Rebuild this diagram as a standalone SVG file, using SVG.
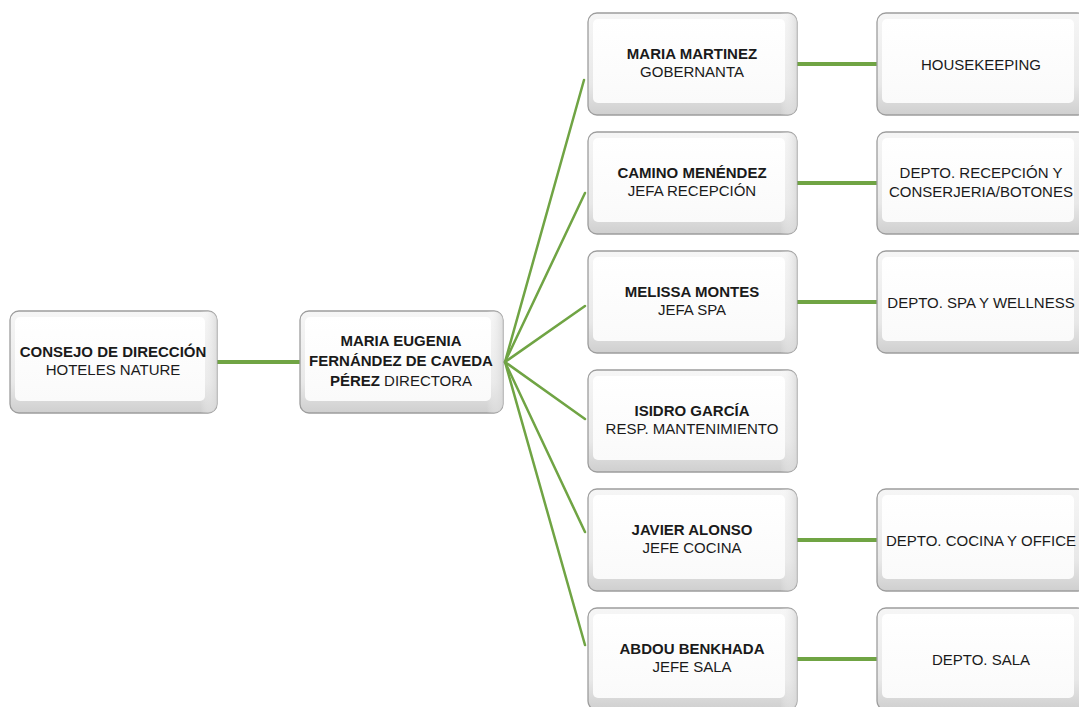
<svg xmlns="http://www.w3.org/2000/svg" width="1079" height="707" viewBox="0 0 1079 707">
<defs>
<linearGradient id="edge" x1="0" y1="0" x2="0" y2="1">
<stop offset="0" stop-color="#f6f6f6"/>
<stop offset="0.7" stop-color="#e8e8e8"/>
<stop offset="1" stop-color="#cfcfcf"/>
</linearGradient>
<linearGradient id="side" x1="0" y1="0" x2="1" y2="0">
<stop offset="0" stop-color="#ffffff" stop-opacity="0"/>
<stop offset="0.92" stop-color="#ffffff" stop-opacity="0"/>
<stop offset="1" stop-color="#d8d8d8" stop-opacity="0.8"/>
</linearGradient>
<linearGradient id="face" x1="0" y1="0" x2="0" y2="1">
<stop offset="0" stop-color="#ffffff"/>
<stop offset="1" stop-color="#fafafa"/>
</linearGradient>
</defs>
<style>
.outer{fill:url(#edge);stroke:#9d9d9d;stroke-width:1.3}
.sh{fill:url(#side)}
.face{fill:url(#face)}
.t{font-family:"Liberation Sans",Arial,sans-serif;font-size:15px;fill:#1a1a1a;text-anchor:middle}
.b{font-weight:bold}
.fan{stroke:#70a444;stroke-width:2.5;fill:none;stroke-linecap:round}
.hz{stroke:#70a444;stroke-width:4;fill:none}
</style>
<rect width="1079" height="707" fill="#ffffff"/>
<g id="connectors">
<line class="hz" x1="217" y1="362" x2="300" y2="362"/>
<line class="fan" x1="505" y1="362" x2="584" y2="80"/>
<line class="fan" x1="505" y1="362" x2="585" y2="193"/>
<line class="fan" x1="505" y1="362" x2="585" y2="306"/>
<line class="fan" x1="505" y1="362" x2="585" y2="419"/>
<line class="fan" x1="505" y1="362" x2="585" y2="532"/>
<line class="fan" x1="505" y1="362" x2="585" y2="645"/>
<line class="hz" x1="797" y1="64" x2="877" y2="64"/>
<line class="hz" x1="797" y1="183" x2="877" y2="183"/>
<line class="hz" x1="797" y1="302" x2="877" y2="302"/>
<line class="hz" x1="797" y1="540" x2="877" y2="540"/>
<line class="hz" x1="797" y1="659" x2="877" y2="659"/>
</g>
<g id="consejo">
<rect class="outer" x="10" y="311" width="207" height="102" rx="9"/>
<rect class="sh" x="10" y="311" width="207" height="102" rx="9"/>
<rect class="face" x="15" y="317" width="190" height="84" rx="5"/>
<text class="t" x="113" y="357"><tspan class="b">CONSEJO DE DIRECCIÓN</tspan></text>
<text class="t" x="113" y="375">HOTELES NATURE</text>
</g>
<g id="directora">
<rect class="outer" x="300" y="311" width="203" height="102" rx="9"/>
<rect class="sh" x="300" y="311" width="203" height="102" rx="9"/>
<rect class="face" x="305" y="317" width="186" height="84" rx="5"/>
<text class="t b" x="401" y="346">MARIA EUGENIA</text>
<text class="t b" x="401" y="366">FERNÁNDEZ DE CAVEDA</text>
<text class="t" x="401" y="386"><tspan class="b">PÉREZ</tspan> DIRECTORA</text>
</g>
<g id="maria-martinez">
<rect class="outer" x="588" y="13" width="209" height="102" rx="9"/>
<rect class="sh" x="588" y="13" width="209" height="102" rx="9"/>
<rect class="face" x="593" y="19" width="192" height="84" rx="5"/>
<text class="t b" x="692" y="59">MARIA MARTINEZ</text>
<text class="t" x="692" y="77">GOBERNANTA</text>
</g>
<g id="camino">
<rect class="outer" x="588" y="132" width="209" height="102" rx="9"/>
<rect class="sh" x="588" y="132" width="209" height="102" rx="9"/>
<rect class="face" x="593" y="138" width="192" height="84" rx="5"/>
<text class="t b" x="692" y="178">CAMINO MENÉNDEZ</text>
<text class="t" x="692" y="196">JEFA RECEPCIÓN</text>
</g>
<g id="melissa">
<rect class="outer" x="588" y="251" width="209" height="102" rx="9"/>
<rect class="sh" x="588" y="251" width="209" height="102" rx="9"/>
<rect class="face" x="593" y="257" width="192" height="84" rx="5"/>
<text class="t b" x="692" y="297">MELISSA MONTES</text>
<text class="t" x="692" y="315">JEFA SPA</text>
</g>
<g id="isidro">
<rect class="outer" x="588" y="370" width="209" height="102" rx="9"/>
<rect class="sh" x="588" y="370" width="209" height="102" rx="9"/>
<rect class="face" x="593" y="376" width="192" height="84" rx="5"/>
<text class="t b" x="692" y="416">ISIDRO GARCÍA</text>
<text class="t" x="692" y="434">RESP. MANTENIMIENTO</text>
</g>
<g id="javier">
<rect class="outer" x="588" y="489" width="209" height="102" rx="9"/>
<rect class="sh" x="588" y="489" width="209" height="102" rx="9"/>
<rect class="face" x="593" y="495" width="192" height="84" rx="5"/>
<text class="t b" x="692" y="535">JAVIER ALONSO</text>
<text class="t" x="692" y="553">JEFE COCINA</text>
</g>
<g id="abdou">
<rect class="outer" x="588" y="608" width="209" height="102" rx="9"/>
<rect class="sh" x="588" y="608" width="209" height="102" rx="9"/>
<rect class="face" x="593" y="614" width="192" height="84" rx="5"/>
<text class="t b" x="692" y="654">ABDOU BENKHADA</text>
<text class="t" x="692" y="672">JEFE SALA</text>
</g>
<g id="housekeeping">
<rect class="outer" x="877" y="13" width="209" height="102" rx="9"/>
<rect class="face" x="882" y="19" width="192" height="84" rx="5"/>
<text class="t" x="981" y="70">HOUSEKEEPING</text>
</g>
<g id="recepcion">
<rect class="outer" x="877" y="132" width="209" height="102" rx="9"/>
<rect class="face" x="882" y="138" width="192" height="84" rx="5"/>
<text class="t" x="981" y="178">DEPTO. RECEPCIÓN Y</text>
<text class="t" x="981" y="197">CONSERJERIA/BOTONES</text>
</g>
<g id="spa">
<rect class="outer" x="877" y="251" width="209" height="102" rx="9"/>
<rect class="face" x="882" y="257" width="192" height="84" rx="5"/>
<text class="t" x="981" y="308">DEPTO. SPA Y WELLNESS</text>
</g>
<g id="cocina">
<rect class="outer" x="877" y="489" width="209" height="102" rx="9"/>
<rect class="face" x="882" y="495" width="192" height="84" rx="5"/>
<text class="t" x="981" y="546">DEPTO. COCINA Y OFFICE</text>
</g>
<g id="sala">
<rect class="outer" x="877" y="608" width="209" height="102" rx="9"/>
<rect class="face" x="882" y="614" width="192" height="84" rx="5"/>
<text class="t" x="981" y="665">DEPTO. SALA</text>
</g>
</svg>
